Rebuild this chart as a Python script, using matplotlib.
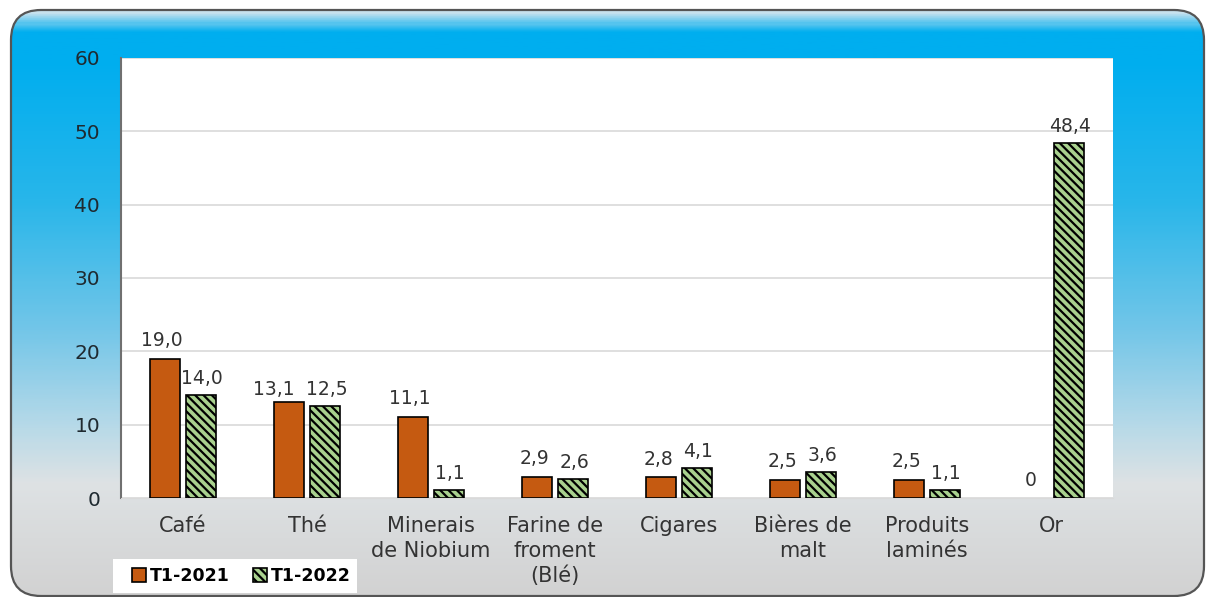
import numpy as np
import matplotlib.pyplot as plt
from matplotlib.patches import FancyBboxPatch, Patch, Rectangle
from matplotlib.colors import LinearSegmentedColormap

# data
categories = ['Café', 'Thé', 'Minerais\nde Niobium', 'Farine de\nfroment\n(Blé)',
              'Cigares', 'Bières de\nmalt', 'Produits\nlaminés', 'Or']
t1_2021 = [19.0, 13.1, 11.1, 2.9, 2.8, 2.5, 2.5, 0]
t1_2022 = [14.0, 12.5, 1.1, 2.6, 4.1, 3.6, 1.1, 48.4]
labels_2021 = ['19,0', '13,1', '11,1', '2,9', '2,8', '2,5', '2,5', '0']
labels_2022 = ['14,0', '12,5', '1,1', '2,6', '4,1', '3,6', '1,1', '48,4']
yticks = [0, 10, 20, 30, 40, 50, 60]

W, H = 1207, 597
fig = plt.figure(figsize=(W / 100, H / 100), dpi=100)
plt.rcParams['hatch.linewidth'] = 1.6

# background: rounded box with vertical gradient
bg = fig.add_axes([0, 0, 1, 1])
bg.set_xlim(0, W)
bg.set_ylim(H, 0)
bg.axis('off')
stops = [(10, (200, 226, 238)), (30, (0, 174, 239)), (60, (0, 174, 239)),
         (200, (40, 182, 234)), (330, (115, 198, 232)), (430, (185, 218, 232)),
         (485, (222, 226, 228)), (596, (210, 210, 210))]
cmap = LinearSegmentedColormap.from_list(
    'bgrad', [((y - 10) / (596 - 10), tuple(c / 255 for c in col)) for y, col in stops])
grad = np.linspace(0, 1, 300).reshape(-1, 1)
box = FancyBboxPatch((11, 10), 1193, 586, boxstyle='round,pad=0,rounding_size=30',
                     facecolor='none', edgecolor='#555555', lw=1.6, zorder=3)
bg.add_patch(box)
im = bg.imshow(grad, cmap=cmap, extent=(11, 1204, 596, 10), aspect='auto', zorder=1)
im.set_clip_path(box)
# white legend panel
bg.add_patch(Rectangle((113, 559), 244, 34, facecolor='white', edgecolor='none', zorder=4))

# main chart
ax = fig.add_axes([121 / W, (H - 498) / H, 992 / W, 440 / H])
ax.set_facecolor('white')
x = np.arange(len(categories))
w = 0.24
off = 0.145
b1 = ax.bar(x - off, t1_2021, w, color='#C55A11', edgecolor='black',
            lw=[1.2 if v > 0 else 0 for v in t1_2021], zorder=3)
b2 = ax.bar(x + off, t1_2022, w, color='#A9D18E', edgecolor='black', lw=1.2,
            hatch='\\\\\\\\', zorder=3)

for i, (r, lab) in enumerate(zip(b1, labels_2021)):
    dx, dy = (-11, 2) if i == 1 else (-2, 6)
    ax.annotate(lab, (r.get_x() + r.get_width() / 2, r.get_height()), xytext=(dx, dy),
                textcoords='offset points', ha='center', va='bottom', fontsize=13.5, color='#333333')
for r, lab in zip(b2, labels_2022):
    ax.annotate(lab, (r.get_x() + r.get_width() / 2, r.get_height()), xytext=(1, 5),
                textcoords='offset points', ha='center', va='bottom', fontsize=13.5, color='#333333')

ax.set_xlim(-0.5, len(categories) - 0.5)
ax.set_ylim(0, 60)
ax.set_yticks(yticks)
ax.set_xticks(x)
ax.set_xticklabels(categories, fontsize=15, color='#333333', linespacing=1.3)
ax.tick_params(axis='y', length=0, pad=15, labelsize=14.5, labelcolor='#1f2a30')
ax.tick_params(axis='x', length=0, pad=13)
ax.grid(axis='y', color='#D9D9D9', lw=1.2, zorder=0)
for s in ['top', 'right']:
    ax.spines[s].set_visible(False)
ax.spines['left'].set_color('#707070')
ax.spines['left'].set_linewidth(1.5)
ax.spines['bottom'].set_color('#D9D9D9')

handles = [Patch(facecolor='#C55A11', edgecolor='black', lw=1.2),
           Patch(facecolor='#A9D18E', edgecolor='black', lw=1.2, hatch='\\\\\\\\')]
leg = fig.legend(handles, ['T1-2021', 'T1-2022'], loc='center left',
                 bbox_to_anchor=(132 / W, (H - 576) / H), ncol=2, frameon=False,
                 handlelength=0.8, handleheight=0.8, handletextpad=0.25, columnspacing=1.3,
                 borderpad=0, borderaxespad=0, prop={'weight': 'bold', 'size': 12.5})

plt.savefig('out.png', dpi=100)
